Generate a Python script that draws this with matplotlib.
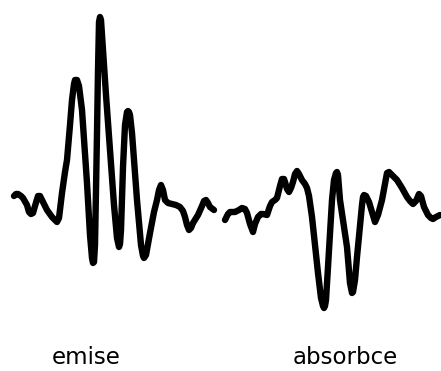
import matplotlib
matplotlib.use("Agg")
import matplotlib.pyplot as plt

# emission trace (x, y in image units, y downward)
emise_x = [14, 16, 18, 21, 23, 27, 29, 31, 33, 35, 38, 40, 42, 45, 47, 52, 55, 57, 59, 62, 65, 67, 70, 72, 74, 75, 77, 79, 82, 87,
           90, 92, 93, 94, 95, 96, 97, 98, 99, 100, 101, 103, 106, 110, 114, 117, 119, 120, 121, 123, 125, 127, 128,
           129, 130, 132, 137, 141, 143, 144, 146, 150, 154, 157, 159, 161, 163, 165, 168, 172, 176, 180, 183, 185,
           187, 189, 191, 193, 198, 202, 204, 206, 208, 210, 214]
emise_y = [196, 194, 194, 196, 198, 205, 212, 214, 213, 206, 196, 196, 200, 206, 210, 217, 220, 222, 218, 193, 172, 160, 125, 100, 84, 80,
           80, 86, 110, 183, 235, 258, 263, 262, 245, 190, 133, 70, 22, 17, 20, 50, 95, 150, 205, 238, 247, 244, 230,
           167, 125, 112, 111, 112, 115, 133, 200, 245, 256, 258, 255, 233, 212, 200, 190, 185, 190, 200, 203, 204, 205,
           207, 211, 217, 225, 230, 228, 223, 215, 206, 201, 200, 203, 207, 210]

# absorption trace
abs_x = [225, 228, 230, 233, 235, 239, 242, 245, 247, 250, 253, 255, 258, 261, 263, 267, 270, 272, 275, 277, 280, 282, 284,
         285, 287, 289, 291, 293, 295, 297, 299, 302, 305, 307, 309, 312, 318, 321, 323, 324, 325, 326, 328, 332, 334,
         336, 337, 338, 340, 347, 350, 352, 353, 355, 357, 362, 363, 364, 366, 369, 372, 375, 378, 382, 387, 389, 392,
         397, 402, 407, 410, 413, 416, 419, 421, 424, 428, 431, 433, 436, 440]
abs_y = [220, 214, 212, 212, 212, 210, 208, 209, 213, 224, 232, 224, 217, 214, 214, 215, 206, 202, 200, 198, 186, 179, 179,
         182, 189, 192, 188, 182, 174, 171, 174, 180, 184, 188, 196, 217, 273, 298, 306, 308, 306, 300, 267, 200, 180,
         173, 172, 175, 200, 247, 283, 293, 292, 280, 257, 205, 197, 195, 196, 202, 212, 222, 215, 200, 173, 172, 175,
         180, 188, 197, 201, 204, 201, 194, 196, 207, 215, 218, 219, 217, 215]

labels = ["emise", "absorbce"]
label_x = [86, 345]
label_y = [364, 364]

fig = plt.figure(figsize=(4.41, 3.71), dpi=100)
ax = fig.add_axes([0, 0, 1, 1])
ax.set_xlim(0, 441)
ax.set_ylim(371, 0)
ax.axis("off")

kw = dict(color="black", lw=4.6, solid_joinstyle="round", solid_capstyle="round")
ax.plot(emise_x, emise_y, **kw)
ax.plot(abs_x, abs_y, **kw)

for t, x, y in zip(labels, label_x, label_y):
    ax.text(x, y, t, ha="center", va="baseline", fontsize=16.5, fontweight="medium",
            family="DejaVu Sans")

fig.savefig("out.png", dpi=100)
